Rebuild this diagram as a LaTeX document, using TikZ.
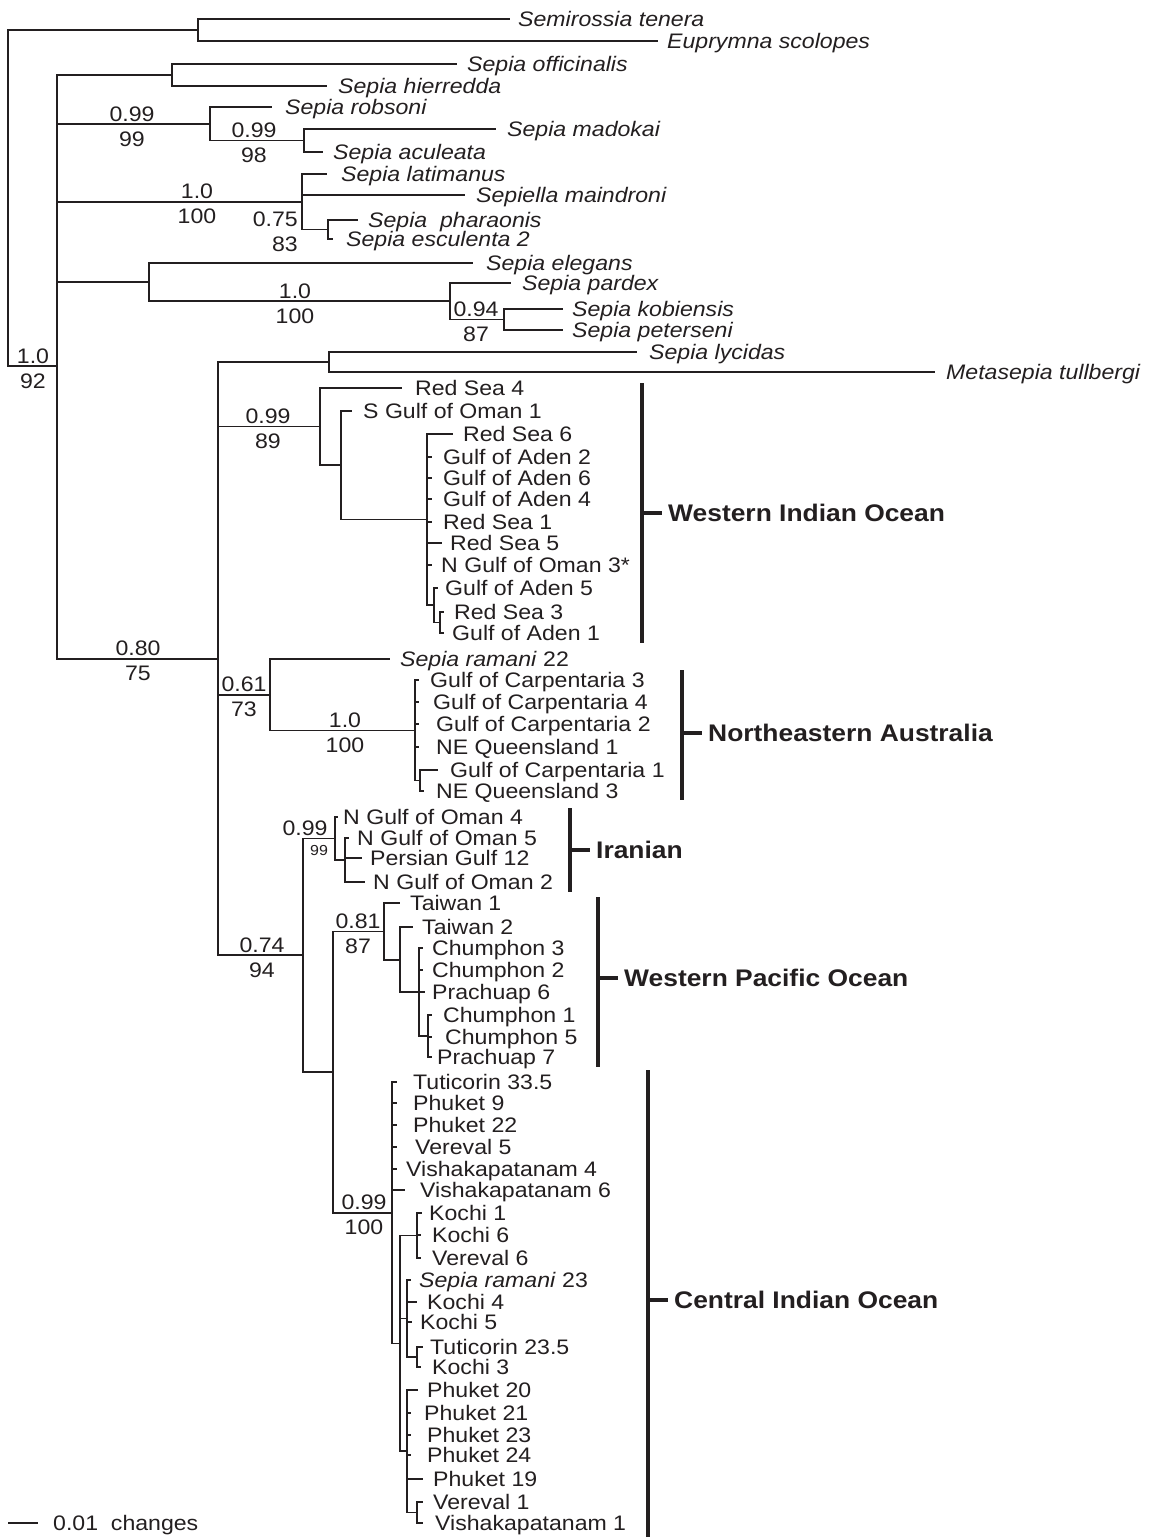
\documentclass[tikz,border=0pt]{standalone}
\usepackage{fontspec}
\setmainfont{Liberation Sans}[FakeStretch=1.1]
\definecolor{ink}{HTML}{231F20}
\newcommand\TipL[6]{%
  \coordinate (#1e) at (#4,#3);
  \node[tiplab] (#1) at (#5,#3+7.5) {#6};
  \draw[br] (#2) |- (#1e);}
\newcommand\InNode[4]{%
  \coordinate (#1) at (#3,#4);
  \draw[br] (#2) |- (#1);}
\newcommand\SupL[5]{%
  \node[suplab] (#1a) at (#2,#3-3) {#4};
  \node[suplab] (#1b) at (#2,#3+22) {#5};}
\newcommand\CladeBar[6]{%
  \coordinate (#1T) at (#2,#3);
  \coordinate (#1B) at (#2,#4);
  \coordinate (#1M) at (#2,#5);
  \draw[bar] (#1T) -- (#1B);
  \node[cladelab] (#1) at (#2+20,#5+8.6) {#6};
  \draw[bar] (#1M) -- (#1M -| #1.west);}
\begin{document}
\begin{tikzpicture}[x=1pt,y=-1pt,
  br/.style={draw=ink,line width=1.8pt},
  bar/.style={draw=ink,line width=4.5pt},
  tiplab/.style={anchor=base west,inner sep=0pt,text=ink,font=\fontsize{21}{24}\selectfont},
  suplab/.style={anchor=base,inner sep=0pt,text=ink,font=\fontsize{21}{24}\selectfont},
  smallsup/.style={anchor=base,inner sep=0pt,text=ink,font=\fontsize{14.5}{16}\selectfont},
  cladelab/.style={anchor=base west,inner xsep=6pt,inner ysep=0pt,text=ink,font=\fontsize{24}{28}\selectfont\bfseries}]
\useasboundingbox[fill=white] (0,0) rectangle (1152,1537);

% root and outgroup
\coordinate (R) at (8,198);
\InNode{O}{R}{198}{30}
\TipL{t1}{O}{19}{510}{518}{\textit{Semirossia tenera}}
\TipL{t2}{O}{41}{658}{667}{\textit{Euprymna scolopes}}
\InNode{I}{R}{57}{366}
\SupL{s1}{33}{366}{1.0}{92}

% upper Sepia clades
\InNode{A}{I}{172}{75}
\TipL{t3}{A}{64}{457}{467}{\textit{Sepia officinalis}}
\TipL{t4}{A}{86}{327}{338}{\textit{Sepia hierredda}}
\InNode{B}{I}{210}{124}
\SupL{s2}{132}{124}{0.99}{99}
\TipL{t5}{B}{107}{272}{285}{\textit{Sepia robsoni}}
\InNode{B2}{B}{304}{140.5}
\SupL{s3}{254}{140.5}{0.99}{98}
\TipL{t6}{B2}{129}{496}{507}{\textit{Sepia madokai}}
\TipL{t7}{B2}{152}{323}{333}{\textit{Sepia aculeata}}
\InNode{C}{I}{302}{201.75}
\SupL{s4}{197}{201.75}{1.0}{100}
\TipL{t8}{C}{174}{327}{341}{\textit{Sepia latimanus}}
\TipL{t9}{C}{195}{465}{476}{\textit{Sepiella maindroni}}
\InNode{C2}{C}{328}{229.5}
\node[suplab,anchor=base east] (s5a) at (298,226.5) {0.75};
\node[suplab,anchor=base east] (s5b) at (298,251.5) {83};
\TipL{t10}{C2}{220}{358}{368}{\textit{Sepia\ \ pharaonis}}
\TipL{t11}{C2}{239}{333}{346}{\textit{Sepia esculenta 2}}
\InNode{D}{I}{149}{282}
\TipL{t12}{D}{263}{473}{486}{\textit{Sepia elegans}}
\InNode{D2}{D}{450}{301}
\SupL{s6}{295}{301}{1.0}{100}
\TipL{t13}{D2}{283}{511}{522}{\textit{Sepia pardex}}
\InNode{D3}{D2}{504}{319.5}
\SupL{s7}{476}{319.5}{0.94}{87}
\TipL{t14}{D3}{309}{563}{572}{\textit{Sepia kobiensis}}
\TipL{t15}{D3}{330}{563}{572}{\textit{Sepia peterseni}}

% big clade
\InNode{E}{I}{218}{658.6}
\SupL{s8}{138}{658.6}{0.80}{75}
\InNode{F}{E}{329}{362}
\TipL{t16}{F}{352}{637}{649}{\textit{Sepia lycidas}}
\TipL{t17}{F}{372}{935}{946}{\textit{Metasepia tullbergi}}

% Western Indian Ocean
\InNode{W}{E}{320}{426.5}
\SupL{s9}{268}{426.5}{0.99}{89}
\TipL{t18}{W}{388}{402}{415}{Red Sea 4}
\InNode{W2}{W}{341}{465}
\TipL{t19}{W2}{411}{352}{363}{S Gulf of Oman 1}
\InNode{W3}{W2}{427}{519.5}
\TipL{t20}{W3}{434}{453}{463}{Red Sea 6}
\TipL{t21}{W3}{457}{432}{443}{Gulf of Aden 2}
\TipL{t22}{W3}{478}{432}{443}{Gulf of Aden 6}
\TipL{t23}{W3}{499}{432}{443}{Gulf of Aden 4}
\TipL{t24}{W3}{522}{432}{443}{Red Sea 1}
\TipL{t25}{W3}{543}{442}{450}{Red Sea 5}
\TipL{t26}{W3}{565}{432}{441}{N Gulf of Oman 3*}
\InNode{W4}{W3}{434}{605}
\TipL{t27}{W4}{588}{438}{445}{Gulf of Aden 5}
\InNode{W5}{W4}{440}{622.5}
\TipL{t28}{W5}{612}{444}{454}{Red Sea 3}
\TipL{t29}{W5}{633}{444}{452}{Gulf of Aden 1}

% ramani 22 + NE Australia
\InNode{G}{E}{270}{694.75}
\SupL{s10}{244}{694.75}{0.61}{73}
\TipL{t30}{G}{659}{390}{400}{\textit{Sepia ramani} 22}
\InNode{H}{G}{415}{730.5}
\SupL{s11}{345}{730.5}{1.0}{100}
\TipL{t31}{H}{680}{419}{430}{Gulf of Carpentaria 3}
\TipL{t32}{H}{702}{419}{433}{Gulf of Carpentaria 4}
\TipL{t33}{H}{724}{419}{436}{Gulf of Carpentaria 2}
\TipL{t34}{H}{747}{419}{436}{NE Queensland 1}
\InNode{H2}{H}{420}{780.5}
\TipL{t35}{H2}{770}{438}{450}{Gulf of Carpentaria 1}
\TipL{t36}{H2}{791}{424}{436}{NE Queensland 3}

% 0.74 clade
\InNode{J}{E}{303}{955.25}
\SupL{s12}{262}{955.25}{0.74}{94}
\InNode{K}{J}{335}{838.5}
\node[suplab] (s13a) at (305,835.5) {0.99};
\node[smallsup] (s13b) at (319,855) {99};
\TipL{t37}{K}{817}{338}{343}{N Gulf of Oman 4}
\InNode{K2}{K}{345}{860}
\TipL{t38}{K2}{838}{349}{357}{N Gulf of Oman 5}
\TipL{t39}{K2}{858}{362}{370}{Persian Gulf 12}
\TipL{t40}{K2}{882}{365}{373}{N Gulf of Oman 2}
\InNode{L}{J}{333}{1072}
\InNode{M}{L}{384}{931.5}
\SupL{s14}{358}{931.5}{0.81}{87}
\TipL{t41}{M}{903}{400}{410}{Taiwan 1}
\InNode{M2}{M}{400}{960}
\TipL{t42}{M2}{927}{413}{422}{Taiwan 2}
\InNode{M3}{M2}{419}{992}
\TipL{t43}{M3}{948}{423}{432}{Chumphon 3}
\TipL{t44}{M3}{970}{423}{432}{Chumphon 2}
\TipL{t45}{M3}{992}{425}{432}{Prachuap 6}
\InNode{M4}{M3}{428}{1036}
\TipL{t46}{M4}{1015}{432}{443}{Chumphon 1}
\TipL{t47}{M4}{1037}{432}{445}{Chumphon 5}
\TipL{t48}{M4}{1057}{432}{437}{Prachuap 7}

% Central Indian Ocean
\InNode{N}{L}{392}{1212.6}
\SupL{s15}{364}{1212.6}{0.99}{100}
\TipL{t49}{N}{1082}{397}{413}{Tuticorin 33.5}
\TipL{t50}{N}{1103}{397}{413}{Phuket 9}
\TipL{t51}{N}{1125}{397}{413}{Phuket 22}
\TipL{t52}{N}{1147}{397}{415}{Vereval 5}
\TipL{t53}{N}{1169}{397}{406}{Vishakapatanam 4}
\TipL{t54}{N}{1190}{405}{420}{Vishakapatanam 6}
\InNode{N2}{N}{400}{1343.4}
\InNode{N3}{N2}{417}{1235.5}
\TipL{t55}{N3}{1213}{422}{429}{Kochi 1}
\TipL{t56}{N3}{1235}{421}{432}{Kochi 6}
\TipL{t57}{N3}{1258}{421}{432}{Vereval 6}
\InNode{N4}{N2}{407}{1318.5}
\TipL{t58}{N4}{1280}{411}{419}{\textit{Sepia ramani} 23}
\TipL{t59}{N4}{1302}{417}{427}{Kochi 4}
\TipL{t60}{N4}{1322}{412}{420}{Kochi 5}
\InNode{N5}{N4}{417}{1357}
\TipL{t61}{N5}{1347}{423}{430}{Tuticorin 23.5}
\TipL{t62}{N5}{1367}{421}{432}{Kochi 3}
\InNode{N6}{N2}{407}{1451.25}
\TipL{t63}{N6}{1390}{418}{427}{Phuket 20}
\TipL{t64}{N6}{1413}{411}{424}{Phuket 21}
\TipL{t65}{N6}{1435}{411}{427}{Phuket 23}
\TipL{t66}{N6}{1455}{411}{427}{Phuket 24}
\TipL{t67}{N6}{1479}{423}{433}{Phuket 19}
\InNode{N7}{N6}{417}{1512.5}
\TipL{t68}{N7}{1502}{423}{433}{Vereval 1}
\TipL{t69}{N7}{1523}{423}{435}{Vishakapatanam 1}

% clade bars
\CladeBar{wio}{642}{383}{643}{513}{Western Indian Ocean}
\CladeBar{nea}{682}{670}{800}{733}{Northeastern Australia}
\CladeBar{ira}{570}{808}{892}{850}{Iranian}
\CladeBar{wpo}{598}{897}{1067}{978}{Western Pacific Ocean}
\CladeBar{cio}{648}{1070}{1537}{1300}{Central Indian Ocean}

% scale bar
\coordinate (sbA) at (8,1523);
\coordinate (sbB) at (38,1523);
\draw[br] (sbA) -- (sbB);
\node[tiplab] (sbl) at (53,1530.5) {0.01\ \ changes};
\end{tikzpicture}
\end{document}
